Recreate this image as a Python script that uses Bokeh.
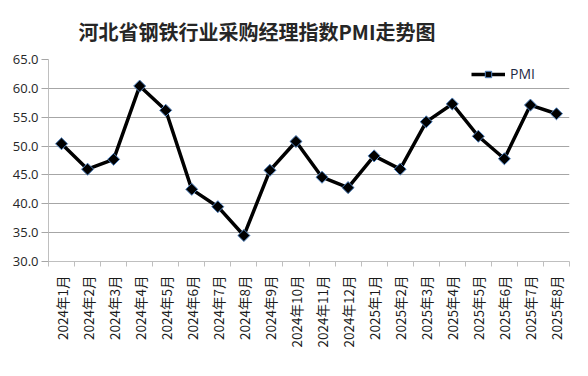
import math
from bokeh.plotting import figure
from bokeh.models import FixedTicker, Legend, LegendItem, ColumnDataSource
from bokeh.embed import file_html
from bokeh.resources import INLINE

title_text = "河北省钢铁行业采购经理指数PMI走势图"
months = ["2024年1月", "2024年2月", "2024年3月", "2024年4月", "2024年5月", "2024年6月",
          "2024年7月", "2024年8月", "2024年9月", "2024年10月", "2024年11月", "2024年12月",
          "2025年1月", "2025年2月", "2025年3月", "2025年4月", "2025年5月", "2025年6月",
          "2025年7月", "2025年8月"]
pmi = [50.4, 46.0, 47.7, 60.4, 56.2, 42.5, 39.5, 34.5, 45.8, 50.8, 44.6, 42.8,
       48.3, 46.0, 54.2, 57.3, 51.7, 47.8, 57.1, 55.6]
y_ticks = [30, 35, 40, 45, 50, 55, 60, 65]

xs = [i + 0.5 for i in range(len(months))]
src = ColumnDataSource(dict(x=xs, y=pmi))

p = figure(width=572, height=360, output_backend="svg", toolbar_location=None,
           x_range=(0, len(months)), y_range=(30, 65),
           min_border_left=48, min_border_right=3, min_border_top=10, min_border_bottom=99)
p.outline_line_color = None
p.background_fill_color = "white"

p.title.text = title_text
p.title.text_font = "Noto Sans CJK SC"
p.title.text_font_size = "20px"
p.title.text_font_style = "bold"
p.title.text_color = "#262626"
p.title.align = "left"
p.title.offset = 30
p.title.standoff = 28

ln = p.line("x", "y", source=src, line_color="black", line_width=3.5)
sc = p.scatter("x", "y", source=src, marker="square", angle=math.pi / 4, size=8.5,
               fill_color="black", line_color="#4f81bd", line_width=1)

# x axis
p.xaxis.ticker = FixedTicker(ticks=xs, minor_ticks=list(range(len(months) + 1)))
p.xaxis.major_label_overrides = {x: m for x, m in zip(xs, months)}
p.xaxis.major_label_orientation = math.pi / 2
p.xaxis.major_tick_out = 0
p.xaxis.major_tick_in = 0
p.xaxis.minor_tick_out = 5
p.xaxis.minor_tick_in = 0
p.xaxis.minor_tick_line_color = "#bfbfbf"
p.xaxis.axis_line_color = "#bfbfbf"
p.xaxis.major_label_text_font = "Noto Sans CJK SC"
p.xaxis.major_label_text_font_size = "13.5px"
p.xaxis.major_label_text_color = "#1a1a1a"
p.xaxis.major_label_standoff = 9

# y axis
p.yaxis.ticker = FixedTicker(ticks=y_ticks)
p.yaxis.major_label_overrides = {t: f"{t:.1f}" for t in y_ticks}
p.yaxis.axis_line_color = "#bfbfbf"
p.yaxis.major_tick_line_color = "#a6a6a6"
p.yaxis.major_tick_out = 7
p.yaxis.major_tick_in = 0
p.yaxis.minor_tick_line_color = None
p.yaxis.major_label_text_font = "Open Sans"
p.yaxis.major_label_text_font_size = "13px"
p.yaxis.major_label_text_color = "#262626"
p.yaxis.major_label_standoff = 3

p.xgrid.grid_line_color = None
p.ygrid.grid_line_color = "#a6a6a6"
p.ygrid.grid_line_width = 1

legend = Legend(items=[LegendItem(label="PMI", renderers=[ln, sc])],
                location=(423, 178), border_line_color=None, background_fill_alpha=0,
                glyph_width=34, glyph_height=16, padding=2, margin=0, label_standoff=5,
                label_text_font="Open Sans", label_text_font_size="14px",
                label_text_color="#1f2a44")
p.add_layout(legend)

open("out.html", "w").write(file_html(p, INLINE))
